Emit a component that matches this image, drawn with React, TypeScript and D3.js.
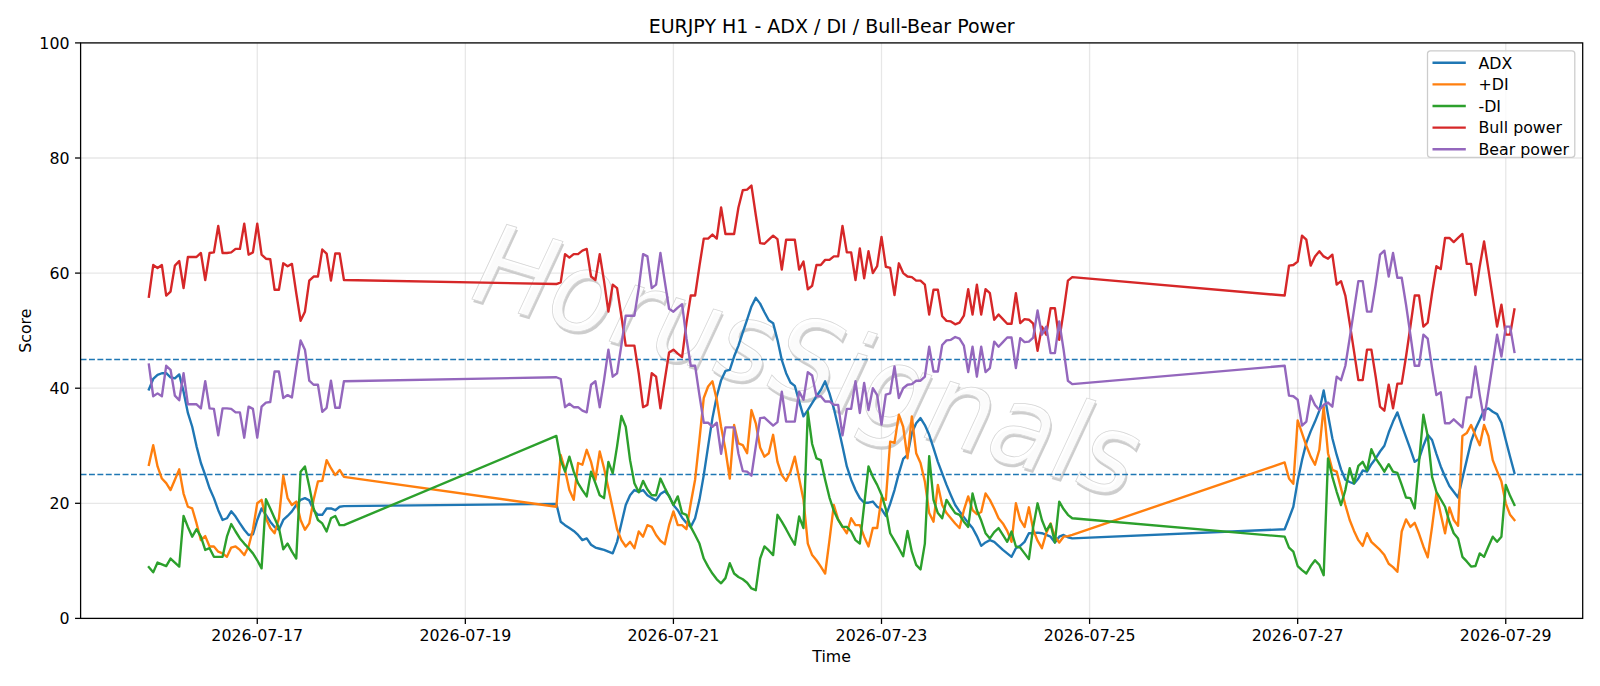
import React from 'react';
import * as d3 from 'd3';

const WIDTH = 1600;
const HEIGHT = 686;
const margin = { top: 42.9, right: 17.3, bottom: 67.6, left: 80.6 };
const FONT = '"DejaVu Sans", "Liberation Sans", sans-serif';

// hourly bars, UTC; three trading sessions (weekend gaps are drawn as straight lines)
const sessionStarts = ['2026-07-15T23:00:00Z', '2026-07-19T21:00:00Z', '2026-07-26T21:00:00Z'];
const sessionBars = [46, 120, 54];

const adx = [
  // session 1
  39.8, 41.6, 42.3, 42.6, 42.6, 41.9, 41.7, 42.4, 39.4, 35.7,
  33.3, 29.9, 27.0, 24.9, 22.6, 20.9, 18.8, 17.1, 17.4, 18.6,
  17.7, 16.5, 15.4, 14.5, 14.6,
  17.1, 19.1, 18.0, 16.8, 15.9, 15.4, 17.1, 17.8, 18.6, 19.7,
  20.6, 20.9, 20.5, 18.8, 18.0, 18.0, 19.1, 19.1, 18.8, 19.4,
  19.5,
  // session 2
  19.9, 16.8, 16.2, 15.7, 15.2, 14.5, 13.6, 13.9, 12.8, 12.3,
  12.1, 11.9, 11.6, 11.3, 13.3, 16.5, 19.7, 21.4, 22.3, 22.0,
  22.3, 21.4, 20.9, 20.5, 21.6, 22.1, 21.3, 19.7, 18.8, 17.5,
  16.6, 15.9, 17.4, 20.6, 24.9, 29.9, 34.8, 38.6, 41.4, 43.0,
  43.2, 45.5, 47.4, 49.7, 51.9, 54.2, 55.7, 54.7, 53.2, 51.8,
  51.3, 48.4, 44.9, 42.6, 41.0, 40.4, 37.7, 35.1, 36.2, 37.4,
  38.6, 39.7, 41.2, 39.1, 36.5, 33.3, 29.9, 26.4, 24.1, 22.3,
  20.9, 20.1, 20.1, 20.3, 19.4, 19.0, 17.8, 19.9, 22.3, 25.2,
  27.7, 28.4, 32.2, 33.9, 34.8, 33.6, 31.9, 29.6, 27.2, 25.2,
  23.2, 21.4, 19.7, 18.6, 17.6, 16.6, 15.7, 14.3, 12.6, 13.2,
  13.6, 13.3, 12.6, 11.9, 11.3, 10.7, 12.2, 12.6, 13.3, 14.8,
  14.8, 14.9, 14.8, 14.5, 14.2, 13.2, 14.2, 14.5, 14.1, 13.9,
  // session 3
  15.5, 17.4, 19.4, 23.9, 27.5, 30.5, 32.5, 34.2, 36.1, 39.6,
  35.4, 31.3, 28.4, 25.9, 24.1, 23.7, 23.4, 24.3, 25.7, 25.5,
  26.8, 27.8, 29.0, 30.0, 32.3, 34.2, 35.8, 33.6, 31.5, 29.4,
  27.2, 27.7, 30.0, 31.9, 31.0, 28.6, 26.4, 24.6, 23.0, 22.0,
  21.0, 24.3, 27.5, 30.7, 32.9, 34.5, 36.2, 36.5, 35.9, 35.5,
  34.0, 31.0, 28.1, 25.3,
];

const plusDi = [
  26.7, 30.1, 26.4, 24.3, 23.5, 22.3, 24.1, 25.9, 21.7, 19.4,
  19.1, 16.5, 13.6, 14.3, 12.5, 12.5, 11.6, 11.3, 10.7, 12.3,
  12.5, 11.9, 11.0, 12.5, 15.4,
  20.0, 20.6, 17.4, 15.7, 14.8, 17.4, 24.8, 20.9, 19.7, 20.3,
  17.1, 15.4, 16.5, 20.6, 23.8, 23.9, 27.5, 26.1, 24.9, 25.8,
  24.6,
  19.4, 28.4, 25.8, 22.3, 20.6, 27.0, 26.7, 29.3, 27.2, 24.1,
  29.0, 26.1, 22.6, 19.1, 15.5, 13.6, 12.5, 13.3, 12.2, 15.1,
  14.2, 16.2, 15.9, 14.5, 13.5, 12.9, 16.2, 18.6, 16.2, 16.2,
  15.5, 20.0, 24.1, 31.0, 38.3, 40.3, 41.2, 38.0, 33.3, 29.3,
  24.3, 33.6, 30.4, 30.1, 28.7, 36.2, 33.9, 29.7, 28.1, 28.7,
  31.9, 27.2, 24.9, 23.9, 25.5, 28.1, 24.3, 20.6, 13.0, 11.0,
  10.1, 9.0, 7.8, 13.6, 19.7, 17.2, 15.9, 14.8, 17.4, 16.2,
  16.2, 14.2, 12.5, 15.7, 15.7, 21.0, 20.6, 30.7, 30.5, 35.4,
  33.3, 27.8, 35.1, 28.7, 27.0, 23.8, 18.3, 16.8, 23.2, 19.7,
  18.3, 17.4, 16.5, 15.7, 18.8, 21.2, 18.8, 18.1, 18.5, 21.7,
  20.6, 19.1, 17.4, 16.5, 15.2, 13.3, 20.0, 17.1, 15.9, 19.3,
  15.4, 13.5, 12.2, 14.8, 16.5, 14.2, 13.2, 14.2, 14.3, 14.5,
  27.1, 24.3, 23.4, 34.4, 32.2, 30.0, 28.1, 26.7, 29.3, 36.8,
  28.7, 25.8, 25.5, 22.6, 19.7, 17.1, 15.2, 13.6, 12.6, 14.8,
  13.3, 12.6, 11.9, 11.0, 9.5, 8.9, 8.1, 15.1, 17.2, 15.9,
  16.6, 14.7, 12.5, 10.6, 15.9, 21.7, 18.1, 14.8, 19.3, 17.1,
  16.1, 31.7, 32.2, 33.6, 31.8, 30.1, 33.6, 31.7, 27.5, 25.6,
  23.8, 20.0, 18.0, 17.1,
];

const minusDi = [
  8.9, 8.0, 9.7, 9.4, 9.1, 10.4, 9.7, 9.0, 17.8, 15.9,
  14.2, 15.5, 14.2, 11.9, 12.2, 10.7, 10.7, 10.7, 14.2, 16.4,
  15.1, 13.9, 13.0, 12.2, 11.3,
  10.1, 8.7, 20.7, 19.1, 17.4, 15.7, 12.0, 13.0, 11.6, 10.4,
  25.5, 26.4, 22.9, 19.1, 17.1, 16.5, 15.1, 17.4, 17.8, 16.2,
  16.2,
  31.7, 27.5, 25.5, 28.1, 25.5, 23.5, 22.3, 21.2, 25.5, 23.5,
  21.4, 20.9, 27.2, 25.2, 29.9, 35.2, 33.3, 27.5, 23.5, 21.9,
  23.9, 22.4, 21.4, 21.4, 24.3, 22.7, 21.2, 19.7, 21.2, 18.3,
  18.0, 15.9, 14.5, 13.0, 10.4, 9.0, 7.8, 6.8, 6.1, 7.0,
  9.6, 7.8, 7.2, 6.8, 6.2, 5.2, 4.9, 10.4, 12.5, 11.8,
  11.0, 18.0, 16.8, 15.5, 14.1, 12.8, 17.7, 15.7, 35.9, 30.3,
  27.8, 27.5, 24.1, 21.0, 18.7, 17.1, 15.9, 15.9, 15.1, 13.6,
  13.0, 19.7, 26.4, 24.6, 23.2, 21.5, 19.0, 14.8, 13.5, 12.2,
  10.8, 15.2, 11.6, 9.3, 8.5, 13.0, 28.2, 20.6, 18.3, 17.4,
  20.6, 19.4, 18.3, 18.0, 16.8, 15.9, 21.7, 18.8, 17.0, 14.8,
  13.9, 15.0, 15.7, 14.5, 13.3, 15.1, 12.5, 12.3, 11.3, 10.3,
  15.9, 20.0, 17.1, 15.2, 16.4, 13.2, 20.3, 19.0, 18.0, 17.4,
  14.2, 12.3, 11.6, 9.1, 8.4, 7.8, 9.1, 10.1, 9.3, 7.5,
  27.8, 24.6, 22.0, 19.7, 22.3, 26.1, 23.5, 26.5, 27.2, 25.7,
  29.4, 27.8, 26.7, 25.5, 26.8, 25.5, 25.3, 23.2, 21.0, 20.9,
  19.1, 27.2, 35.4, 31.7, 24.6, 22.0, 20.7, 19.4, 16.8, 14.8,
  13.9, 10.7, 9.9, 9.0, 9.1, 11.3, 10.7, 12.5, 14.2, 13.3,
  14.2, 23.2, 21.3, 19.7,
];

const bullPower = [
  55.9, 61.4, 60.9, 61.4, 56.1, 56.8, 61.3, 62.1, 57.4, 62.8,
  62.8, 62.8, 63.5, 58.8, 63.5, 63.6, 68.2, 63.5, 63.5, 63.6,
  64.2, 64.2, 68.6, 63.2, 63.6,
  68.6, 63.2, 62.5, 62.4, 57.1, 57.1, 61.7, 61.2, 61.6, 56.5,
  51.7, 53.3, 58.7, 59.4, 59.4, 64.1, 63.4, 58.7, 63.4, 63.4,
  58.8,
  58.1, 58.4, 63.3, 62.7, 63.3, 63.3, 63.9, 64.2, 59.4, 58.8,
  63.3, 58.6, 53.3, 58.0, 57.4, 52.5, 47.4, 47.4, 47.4, 42.6,
  36.7, 37.1, 42.6, 42.0, 36.5, 41.4, 46.2, 46.7, 46.0, 45.4,
  51.3, 56.1, 56.1, 61.2, 66.0, 66.0, 66.7, 66.0, 71.4, 66.8,
  66.8, 66.8, 71.4, 74.4, 74.5, 75.2, 70.1, 65.2, 65.1, 65.8,
  66.5, 65.9, 60.6, 65.8, 65.8, 65.8, 60.6, 62.0, 57.2, 57.8,
  61.4, 61.4, 62.3, 62.3, 62.9, 62.9, 68.2, 63.6, 63.6, 58.8,
  64.3, 59.1, 63.8, 60.0, 61.2, 66.3, 61.1, 60.9, 56.2, 61.7,
  60.0, 59.4, 59.3, 58.7, 58.7, 58.0, 52.8, 57.1, 57.1, 52.5,
  51.7, 51.6, 51.1, 51.4, 52.6, 57.2, 52.8, 58.0, 52.8, 57.2,
  56.5, 51.9, 52.8, 52.0, 51.2, 51.2, 56.5, 51.3, 52.0, 51.9,
  51.2, 46.5, 50.7, 49.3, 53.9, 53.9, 48.4, 53.3, 58.7, 59.3,
  56.1, 61.3, 61.4, 62.0, 66.5, 65.8, 61.3, 62.9, 63.8, 62.9,
  62.5, 63.2, 58.0, 58.6, 56.1, 51.3, 46.4, 41.4, 41.4, 46.7,
  46.7, 42.0, 36.8, 36.1, 40.6, 36.5, 40.8, 40.8, 45.5, 50.7,
  56.1, 56.1, 50.7, 51.4, 56.5, 61.2, 60.7, 66.1, 66.1, 65.4,
  66.1, 66.8, 61.6, 61.6, 56.2, 61.2, 65.5, 60.6, 55.7, 50.7,
  54.5, 49.3, 49.3, 53.7,
];

const bearPower = [
  44.1, 38.6, 39.1, 38.6, 43.9, 43.2, 38.7, 37.9, 42.6, 37.2,
  37.2, 37.2, 36.5, 41.2, 36.5, 36.4, 31.8, 36.5, 36.5, 36.4,
  35.8, 35.8, 31.4, 36.8, 36.4,
  31.4, 36.8, 37.5, 37.6, 42.9, 42.9, 38.3, 38.8, 38.4, 43.5,
  48.3, 46.7, 41.3, 40.6, 40.6, 35.9, 36.6, 41.3, 36.6, 36.6,
  41.2,
  41.9, 41.6, 36.7, 37.3, 36.7, 36.7, 36.1, 35.8, 40.6, 41.2,
  36.7, 41.4, 46.7, 42.0, 42.6, 47.5, 52.6, 52.6, 52.6, 57.4,
  63.3, 62.9, 57.4, 58.0, 63.5, 58.6, 53.8, 53.3, 54.0, 54.6,
  48.7, 43.9, 43.9, 38.8, 34.0, 34.0, 33.3, 34.0, 28.6, 33.2,
  33.2, 33.2, 28.6, 25.6, 25.5, 24.8, 29.9, 34.8, 34.9, 34.2,
  33.5, 34.1, 39.4, 34.2, 34.2, 34.2, 39.4, 38.0, 42.8, 42.2,
  38.6, 38.6, 37.7, 37.7, 37.1, 37.1, 31.8, 36.4, 36.4, 41.2,
  35.7, 40.9, 36.2, 40.0, 38.8, 33.7, 38.9, 39.1, 43.8, 38.3,
  40.0, 40.6, 40.7, 41.3, 41.3, 42.0, 47.2, 42.9, 42.9, 47.5,
  48.3, 48.4, 48.9, 48.6, 47.4, 42.8, 47.2, 42.0, 47.2, 42.8,
  43.5, 48.1, 47.2, 48.0, 48.8, 48.8, 43.5, 48.7, 48.0, 48.1,
  48.8, 53.5, 49.3, 50.7, 46.1, 46.1, 51.6, 46.7, 41.3, 40.7,
  43.9, 38.7, 38.6, 38.0, 33.5, 34.2, 38.7, 37.1, 36.2, 37.1,
  37.5, 36.8, 42.0, 41.4, 43.9, 48.7, 53.6, 58.6, 58.6, 53.3,
  53.3, 58.0, 63.2, 63.9, 59.4, 63.5, 59.2, 59.2, 54.5, 49.3,
  43.9, 43.9, 49.3, 48.6, 43.5, 38.8, 39.3, 33.9, 33.9, 34.6,
  33.9, 33.2, 38.4, 38.4, 43.8, 38.8, 34.5, 39.4, 44.3, 49.3,
  45.5, 50.7, 50.7, 46.3,
];

const seriesNames = ['ADX', '+DI', '-DI', 'Bull power', 'Bear power'];
const seriesColors = ['#1f77b4', '#ff7f0e', '#2ca02c', '#d62728', '#9467bd'];
const yTicks = [0, 20, 40, 60, 80, 100];
const xTickLabels = ['2026-07-17', '2026-07-19', '2026-07-21', '2026-07-23', '2026-07-25', '2026-07-27', '2026-07-29'];
const refLevels = [25, 45];
const watermark = 'HorusSignals';

const App: React.FC = () => {
  const innerW = WIDTH - margin.left - margin.right;
  const innerH = HEIGHT - margin.top - margin.bottom;

  // build hourly timestamps for each session
  const times: Date[] = [];
  sessionStarts.forEach((s, i) => {
    const t0 = new Date(s).getTime();
    for (let k = 0; k < sessionBars[i]; k++) times.push(new Date(t0 + k * 3600 * 1000));
  });

  const [tMin, tMax] = d3.extent(times, d => d.getTime()) as [number, number];
  const pad = (tMax - tMin) * 0.05;
  const x = d3.scaleUtc().domain([tMin - pad, tMax + pad]).range([0, innerW]);
  const y = d3.scaleLinear().domain([0, 100]).range([innerH, 0]);

  const allSeries = [adx, plusDi, minusDi, bullPower, bearPower];

  const line = d3.line<[Date, number]>()
    .x(d => x(d[0]))
    .y(d => y(d[1]));

  const xTicks = xTickLabels.map(l => new Date(l + 'T00:00:00Z'));

  // legend geometry
  const lg = { x: innerW - 7.9 - 147.3, y: 7.9, w: 147.3, h: 106.5, row: 21.6 };

  return (
    <svg width={WIDTH} height={HEIGHT} style={{ position: 'absolute', left: 0, top: 0, background: '#fff' }}
      fontFamily={FONT}>
      <rect width={WIDTH} height={HEIGHT} fill="#fff" />
      <text x={margin.left + innerW / 2} y={33.4} textAnchor="middle" fontSize={19} fill="#000">
        EURJPY H1 - ADX / DI / Bull-Bear Power
      </text>
      <g transform={`translate(${margin.left},${margin.top})`}>
        {/* grid */}
        {yTicks.map(t => (
          <line key={'gy' + t} x1={0} x2={innerW} y1={y(t)} y2={y(t)} stroke="#b0b0b0" strokeOpacity={0.3} strokeWidth={1.27} />
        ))}
        {xTicks.map((t, i) => (
          <line key={'gx' + i} x1={x(t)} x2={x(t)} y1={0} y2={innerH} stroke="#b0b0b0" strokeOpacity={0.3} strokeWidth={1.27} />
        ))}

        {/* watermark: gray shadow under a white face gives the embossed outline */}
        <g transform={`translate(${462 - margin.left},${296 - margin.top}) rotate(17) skewX(-8)`} fontSize={112}>
          <text x={2.5} y={2.5} fill="#c4c4c4" fillOpacity={0.85}
            textLength={690} lengthAdjust="spacingAndGlyphs">{watermark}</text>
          <text x={0} y={0} fill="#ffffff" fillOpacity={0.92} stroke="#d6d6d6" strokeWidth={0.8}
            textLength={690} lengthAdjust="spacingAndGlyphs">{watermark}</text>
        </g>

        {/* reference levels */}
        {refLevels.map(v => (
          <line key={'ref' + v} x1={0} x2={innerW} y1={y(v)} y2={y(v)} stroke="#1f77b4" strokeWidth={1.59}
            strokeDasharray="5.9,2.5" />
        ))}

        {/* series */}
        {allSeries.map((vals, i) => (
          <path key={seriesNames[i]}
            d={line(times.map((t, k) => [t, vals[k]] as [Date, number])) || ''}
            fill="none" stroke={seriesColors[i]} strokeWidth={2.38} strokeLinejoin="round" strokeLinecap="square" />
        ))}

        {/* axes frame */}
        <rect x={0} y={0} width={innerW} height={innerH} fill="none" stroke="#000" strokeWidth={1.27} />

        {/* y axis */}
        {yTicks.map(t => (
          <g key={'yt' + t} transform={`translate(0,${y(t)})`}>
            <line x1={-5.56} x2={0} stroke="#000" strokeWidth={1.27} />
            <text x={-11.1} dy="0.36em" textAnchor="end" fontSize={15.8} fill="#000">{t}</text>
          </g>
        ))}
        {/* x axis */}
        {xTicks.map((t, i) => (
          <g key={'xt' + i} transform={`translate(${x(t)},${innerH})`}>
            <line y1={0} y2={5.56} stroke="#000" strokeWidth={1.27} />
            <text y={23} textAnchor="middle" fontSize={15.8} fill="#000">{xTickLabels[i]}</text>
          </g>
        ))}
        <text x={innerW / 2} y={innerH + 43.5} textAnchor="middle" fontSize={15.8} fill="#000">Time</text>
        <text transform={`translate(${25.5 - margin.left + 5},${innerH / 2}) rotate(-90)`} textAnchor="middle"
          fontSize={15.8} fill="#000">Score</text>

        {/* legend */}
        <g transform={`translate(${lg.x},${lg.y})`}>
          <rect width={lg.w} height={lg.h} rx={3} fill="#fff" fillOpacity={0.8} stroke="#cccccc" strokeWidth={1.27} />
          {seriesNames.map((n, i) => (
            <g key={'lg' + n} transform={`translate(0,${12 + i * lg.row})`}>
              <line x1={5} x2={38.3} y1={0} y2={0} stroke={seriesColors[i]} strokeWidth={2.38} />
              <text x={51} dy="0.36em" fontSize={15.8} fill="#000">{n}</text>
            </g>
          ))}
        </g>
      </g>
    </svg>
  );
};

export default App;
